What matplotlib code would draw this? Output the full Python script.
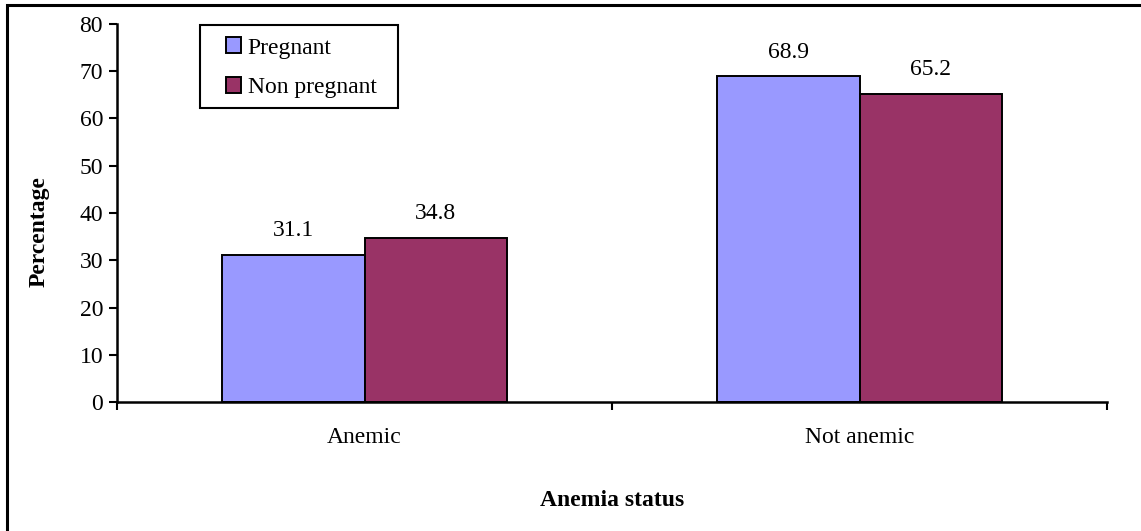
import matplotlib
matplotlib.use("Agg")
import matplotlib.pyplot as plt
import numpy as np
from matplotlib.patches import Rectangle

plt.rcParams['font.family'] = ['Liberation Serif', 'DejaVu Serif']

# data
categories = ['Anemic', 'Not anemic']
pregnant = [31.1, 68.9]
non_pregnant = [34.8, 65.2]
series_names = ['Pregnant', 'Non pregnant']
colors = ['#9999FF', '#993366']

FS = 17
W, H = 1141, 531

fig = plt.figure(figsize=(W / 100, H / 100), dpi=100)
ax = fig.add_axes([117 / W, 1 - 402 / H, 990 / W, 378 / H])

x = np.arange(len(categories))
w = 0.287
b1 = ax.bar(x - w / 2, pregnant, w, color=colors[0], edgecolor='black', linewidth=1.4, label=series_names[0])
b2 = ax.bar(x + w / 2, non_pregnant, w, color=colors[1], edgecolor='black', linewidth=1.4, label=series_names[1])

for bars in (b1, b2):
    for r in bars:
        ax.annotate(f'{r.get_height():.1f}', (r.get_x() + r.get_width() / 2, r.get_height()),
                    xytext=(0, 10), textcoords='offset points', ha='center', va='bottom', fontsize=FS)

ax.set_xlim(-0.5, len(categories) - 0.5)
ax.set_ylim(0, 80)
ax.set_yticks(np.arange(0, 81, 10))
ax.set_xticks(np.arange(-0.5, len(categories), 1.0))
ax.set_xticklabels([])
ax.set_xticks(x, minor=True)
ax.set_xticklabels(categories, minor=True, fontsize=FS)
ax.tick_params(axis='x', which='minor', length=0, pad=18)
ax.tick_params(axis='x', which='major', direction='out', length=6, width=1.5)
ax.tick_params(axis='y', direction='out', length=6, width=1.5, labelsize=FS, pad=4)

for s in ('top', 'right'):
    ax.spines[s].set_visible(False)
for s in ('left', 'bottom'):
    ax.spines[s].set_linewidth(1.8)

ax.set_ylabel('Percentage', fontsize=FS, fontweight='bold')
ax.yaxis.set_label_coords(-0.0788, 0.452)
ax.yaxis.label.set_horizontalalignment('center')
ax.yaxis.label.set_verticalalignment('center')
ax.set_xlabel('Anemia status', fontsize=FS, fontweight='bold', labelpad=30)

# legend without frame, frame drawn separately
leg = ax.legend(loc='upper left', bbox_to_anchor=(226 / W, 1 - 37.5 / H), bbox_transform=fig.transFigure,
                borderaxespad=0, borderpad=0, fontsize=FS, frameon=False,
                handlelength=0.64, handleheight=0.64, handletextpad=0.28, labelspacing=0.78)
fig.patches.append(Rectangle((200 / W, 1 - 108 / H), 198 / W, 83 / H, transform=fig.transFigure,
                             fill=False, edgecolor='black', linewidth=1.5, zorder=5))

# outer frame (cropped at right and bottom)
fig.patches.append(Rectangle((7 / W, -0.1), 1.2, 1.1 - 5 / H, transform=fig.transFigure,
                             fill=False, edgecolor='black', linewidth=2.2))

fig.savefig('out.png', dpi=100)
